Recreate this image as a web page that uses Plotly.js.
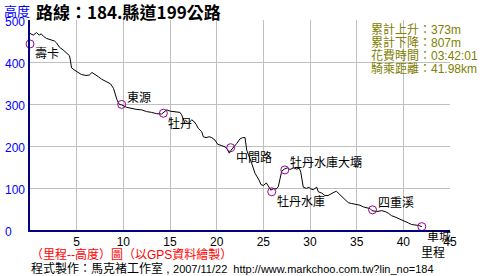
<!DOCTYPE html>
<html>
<head>
<meta charset="utf-8">
<script src="https://cdn.plot.ly/plotly-3.0.1.min.js"></script>
<style>
  html, body { margin: 0; padding: 0; background: #fff; }
  #chart { width: 496px; height: 276px; }
</style>
</head>
<body>
<div id="chart"></div>
<script>
// ---- data ----
const distanceKm = [0.0,0.35,0.70,0.99,1.20,1.45,1.77,2.14,2.63,2.86,3.16,3.54,3.91,4.23,4.32,4.45,4.82,5.18,5.52,6.00,6.35,6.64,6.96,7.32,7.68,8.20,8.63,8.95,9.16,9.32,9.57,9.80,10.36,10.88,11.46,11.97,12.48,13.02,13.55,14.09,14.41,14.65,15.00,15.54,16.07,16.25,16.43,16.61,16.96,17.33,17.50,17.79,18.03,18.40,18.57,18.86,19.21,19.47,19.82,20.11,20.54,20.89,21.14,21.35,21.54,21.78,22.15,22.50,22.79,23.04,23.14,23.22,23.75,24.11,24.54,24.75,25.00,25.32,25.53,25.79,26.07,26.41,26.60,26.79,26.97,27.25,27.59,27.86,28.23,28.58,28.85,29.01,29.11,29.28,29.61,29.89,30.05,30.36,30.72,30.89,31.25,31.61,31.93,32.30,32.68,32.84,33.40,33.75,34.10,34.47,34.82,35.35,35.71,36.08,36.43,36.65,37.15,37.68,38.04,38.39,38.75,39.11,39.46,39.83,40.18,40.53,40.89,41.25,41.61,41.98];
const elevationM = [468,464,470,464,467,461,456,454,450,445,435,429,421,415,405,386,380,375,370,368,369,375,371,365,359,354,348,337,318,310,299,298,292,289,287,286,282,280,277,276,282,286,283,282,280,274,262,254,254,262,260,252,242,234,222,220,222,220,214,204,201,198,193,183,190,196,206,217,220,220,206,190,159,135,119,108,106,112,105,95,98,98,103,125,140,145,148,144,148,145,147,138,121,102,99,102,98,96,102,91,88,82,82,87,91,92,79,71,65,63,61,59,55,53,51,46,44,46,44,40,34,31,28,24,20,17,13,12,11,8];

const waypointNames = ['壽卡','東源','牡丹','中間路','牡丹水庫','牡丹水庫大壩','四重溪','車城'];
const waypointKm    = [0, 9.82, 14.29, 21.5, 25.9, 27.3, 36.7, 41.98];
const waypointElev  = [443, 299, 278, 196, 91, 143, 48, 8];

const xTickVals = [5,10,15,20,25,30,35,40,45];
const yTickVals = [0,100,200,300,400,500];

const statLabels = ['累計上升','累計下降','花費時間','騎乘距離'];
const statValues = ['373m','807m','03:42:01','41.98km'];

const titleText  = '路線：184.縣道199公路';
const yTitleText = '高度';
const xTitleText = '里程';
const noteText   = '（里程--高度）圖（以GPS資料繪製）';
const creditAuthor = '程式製作：馬克褚工作室';
const creditDate   = '2007/11/22';
const creditUrl    = 'http://www.markchoo.com.tw?lin_no=184';

// ---- styling ----
const labelSide = ['below','above','below','below','below','above','above','below'];
const FONT = 'Arial, "Liberation Sans", "Noto Sans CJK TC", sans-serif';
const CJK = '"Noto Sans CJK TC", Arial, sans-serif';
// plot area: 30..450 px wide (420), 20..230 px tall (210)
const px = v => (v - 30) / 420;
const py = v => (230 - v) / 210;

const traces = [
  {
    x: distanceKm, y: elevationM, type: 'scatter', mode: 'lines',
    line: { color: '#000000', width: 1 }, hoverinfo: 'skip', cliponaxis: false
  },
  {
    x: waypointKm, y: waypointElev, type: 'scatter', mode: 'markers',
    marker: { symbol: 'circle-open', size: 8, color: '#990099', line: { width: 1, color: '#990099' } },
    hoverinfo: 'skip', cliponaxis: false
  }
];

const annotations = [];
waypointNames.forEach((n, i) => {
  annotations.push({
    x: waypointKm[i], y: waypointElev[i], xref: 'x', yref: 'y',
    text: n, showarrow: false, xanchor: 'left', yanchor: 'middle',
    xshift: 3, yshift: labelSide[i] === 'below' ? -9 : 8,
    font: { family: CJK, size: 12, color: '#000000' }
  });
});
yTickVals.forEach(v => {
  annotations.push({
    x: px(3), y: v, xref: 'paper', yref: 'y', text: String(v), showarrow: false,
    xanchor: 'left', yanchor: 'middle', yshift: -2,
    font: { family: FONT, size: 12, color: '#0000ff' }
  });
});
statLabels.forEach((s, i) => {
  annotations.push({
    x: px(369), y: py(29.5 + i * 13), xref: 'paper', yref: 'paper',
    text: s + '：' + statValues[i], showarrow: false, xanchor: 'left', yanchor: 'middle',
    font: { family: FONT, size: 12, color: '#808000' }
  });
});
annotations.push({
  x: px(2), y: py(10.5), xref: 'paper', yref: 'paper', text: yTitleText,
  showarrow: false, xanchor: 'left', yanchor: 'middle',
  font: { family: CJK, size: 13, color: '#0000ff' }
});
annotations.push({
  x: px(419), y: py(251), xref: 'paper', yref: 'paper', text: xTitleText,
  showarrow: false, xanchor: 'left', yanchor: 'middle',
  font: { family: CJK, size: 12, color: '#000000' }
});
annotations.push({
  x: px(29), y: py(254), xref: 'paper', yref: 'paper', text: noteText,
  showarrow: false, xanchor: 'left', yanchor: 'middle',
  font: { family: FONT, size: 12, color: '#ff0000' }
});
annotations.push({
  x: px(29), y: py(268), xref: 'paper', yref: 'paper',
  text: creditAuthor + ' , <span style="font-size:11px">' + creditDate + '  ' + creditUrl + '</span>',
  showarrow: false, xanchor: 'left', yanchor: 'middle',
  font: { family: FONT, size: 12, color: '#000000' }
});

const layout = {
  width: 496, height: 276,
  margin: { l: 30, r: 46, t: 20, b: 46, pad: 0 },
  paper_bgcolor: '#ffffff', plot_bgcolor: '#ffffff',
  showlegend: false,
  title: {
    text: '<b>' + titleText + '</b>', xref: 'container', yref: 'container',
    x: 36/496, xanchor: 'left', y: 1 - 13/276, yanchor: 'middle',
    font: { family: CJK, size: 17, color: '#000000' }
  },
  xaxis: {
    range: [0, 45], tickvals: xTickVals, ticktext: xTickVals.map(String),
    showgrid: true, gridcolor: '#c0c0c0', gridwidth: 1,
    zeroline: false, showline: true, linecolor: '#000080', linewidth: 2,
    ticks: '', ticklen: 0,
    tickfont: { family: FONT, size: 12, color: '#000000' }, fixedrange: true
  },
  yaxis: {
    range: [0, 500], tickvals: yTickVals,
    showgrid: true, gridcolor: '#c0c0c0', gridwidth: 1,
    zeroline: false, showline: true, linecolor: '#000080', linewidth: 2,
    showticklabels: false, ticks: '', fixedrange: true
  },
  annotations: annotations
};

Plotly.newPlot('chart', traces, layout, { staticPlot: true, displayModeBar: false });
</script>
</body>
</html>
